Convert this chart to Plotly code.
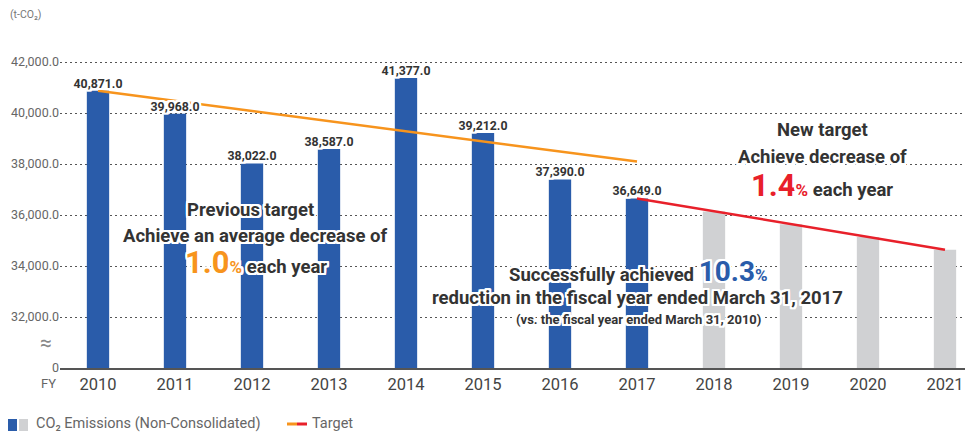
import plotly.graph_objects as go

# ---------------- data ----------------
actual_years = [2010, 2011, 2012, 2013, 2014, 2015, 2016, 2017]
actual_values = [40871.0, 39968.0, 38022.0, 38587.0, 41377.0, 39212.0, 37390.0, 36649.0]
plan_years = [2018, 2019, 2020, 2021]
plan_values = [36140.0, 35640.0, 35140.0, 34640.0]
prev_target_years = [2010, 2017]
prev_target_values = [40871.0, 38095.0]
new_target_years = [2017, 2021]
new_target_values = [36649.0, 34639.0]
y_tick_values = [30000, 32000, 34000, 36000, 38000, 40000, 42000]
y_tick_labels = ["0", "32,000.0", "34,000.0", "36,000.0", "38,000.0", "40,000.0", "42,000.0"]
x_tick_labels = [str(y) for y in actual_years + plan_years]

BLUE = "#2a5caa"
GRAY = "#d0d1d3"
ORANGE = "#f7941d"
RED = "#e8202a"
DARK = "#333333"
FONT = "Roboto"

# page offset (browser body margin) and figure geometry, in pixels
OFF = 8
W, H = 965, 424
L, R, T, B = 52, 3, 44, 64
PW, PH = W - L - R, H - T - B


def px(x):  # reference screen x -> paper
    return (x - OFF - L) / PW


def py(y):  # reference screen y -> paper
    return (H - B - (y - OFF)) / PH


HALO = ", ".join(f"{dx}px {dy}px 0 white" for dx in (-2, -1, 0, 1, 2) for dy in (-2, -1, 0, 1, 2) if dx or dy)

fig = go.Figure()
fig.add_trace(go.Bar(x=actual_years, y=actual_values, width=0.29, marker_color=BLUE,
                     marker_line_width=0, showlegend=False, hoverinfo="skip"))
fig.add_trace(go.Bar(x=plan_years, y=plan_values, width=0.29, marker_color=GRAY,
                     marker_line_width=0, showlegend=False, hoverinfo="skip"))
fig.add_trace(go.Scatter(x=prev_target_years, y=prev_target_values, mode="lines",
                         line=dict(color=ORANGE, width=2.5), showlegend=False, hoverinfo="skip"))
fig.add_trace(go.Scatter(x=new_target_years, y=new_target_values, mode="lines",
                         line=dict(color=RED, width=2.5), showlegend=False, hoverinfo="skip"))
fig.add_trace(go.Scatter(x=actual_years, y=actual_values, mode="text",
                         text=[f"{v:,.1f}" for v in actual_values], textposition="top center",
                         textfont=dict(family=FONT, size=12.3, color=DARK, weight="bold", shadow=HALO),
                         showlegend=False, hoverinfo="skip", cliponaxis=False))

ann = []


def add(text, x, y, size=18.5, color=DARK, xanchor="center", bold=True, halo=True):
    ann.append(dict(text=text, x=px(x), y=py(y), xref="paper", yref="paper", showarrow=False,
                    xanchor=xanchor, yanchor="middle",
                    font=dict(family=FONT, size=size, color=color, weight="bold" if bold else "normal",
                              shadow=HALO if halo else "none")))


add("Previous target", 250, 210)
add("Achieve an average decrease of", 255, 236)
add(f"<span style='color:{ORANGE};font-size:31px'>1.0</span><span style='color:{ORANGE};font-size:17px'>%</span> each year", 256, 262)
add(f"Successfully achieved <span style='color:{BLUE};font-size:28px'>10.3</span><span style='color:{BLUE};font-size:17px'>%</span>", 638, 271)
add("reduction in the fiscal year ended March 31, 2017", 637, 298)
add("(vs. the fiscal year ended March 31, 2010)", 638, 319, size=13)
add("New target", 822, 130)
add("Achieve decrease of", 822, 157)
add(f"<span style='color:{RED};font-size:31px'>1.4</span><span style='color:{RED};font-size:17px'>%</span> each year", 822, 185)

add("(t-CO₂)", OFF, 14, size=10.5, color="#777777", xanchor="left", bold=False, halo=False)
add("FY", 48, 383, size=13, color="#666666", xanchor="center", bold=False, halo=False)
add("≈", 46, 343, size=21, color="#888888", xanchor="center", bold=False, halo=False)
add("CO₂ Emissions (Non-Consolidated)", 34, 423, size=14.5, color="#666666", xanchor="left", bold=False, halo=False)
add("Target", 310, 423, size=14.5, color="#666666", xanchor="left", bold=False, halo=False)

shapes = [
    dict(type="rect", xref="paper", yref="paper", x0=px(8), x1=px(17), y0=py(431), y1=py(419),
         fillcolor=BLUE, line_width=0),
    dict(type="rect", xref="paper", yref="paper", x0=px(19), x1=px(28), y0=py(431), y1=py(419),
         fillcolor=GRAY, line_width=0),
    dict(type="line", xref="paper", yref="paper", x0=px(287), x1=px(297), y0=py(424), y1=py(424),
         line=dict(color=ORANGE, width=3)),
    dict(type="line", xref="paper", yref="paper", x0=px(297), x1=px(307), y0=py(424), y1=py(424),
         line=dict(color=RED, width=3)),
]

X0 = 98 - OFF  # figure-pixel x of the 2010 category centre
STEP = 77      # pixels per year
fig.update_layout(
    width=W, height=H, margin=dict(l=L, r=R, t=T, b=B),
    paper_bgcolor="white", plot_bgcolor="white",
    barmode="overlay", showlegend=False,
    font=dict(family=FONT),
    annotations=ann, shapes=shapes,
    xaxis=dict(range=[2010 - (X0 - L) / STEP, 2010 + (W - R - X0) / STEP],
               tickmode="array", tickvals=actual_years + plan_years, ticktext=x_tick_labels,
               tickfont=dict(family=FONT, size=16.5, color="#444444"),
               showgrid=False, zeroline=False, showline=True, linecolor="#555555", linewidth=2,
               ticks="", fixedrange=True),
    yaxis=dict(range=[30000, 30000 + PH * 2000 / 51],
               tickmode="array", tickvals=y_tick_values, ticktext=y_tick_labels,
               tickfont=dict(family=FONT, size=12.5, color="#666666"),
               showgrid=True, gridcolor="#555555", gridwidth=1, griddash="2px,3px",
               zeroline=False, showline=False, ticks="", fixedrange=True),
)

fig.write_html("out.html")
